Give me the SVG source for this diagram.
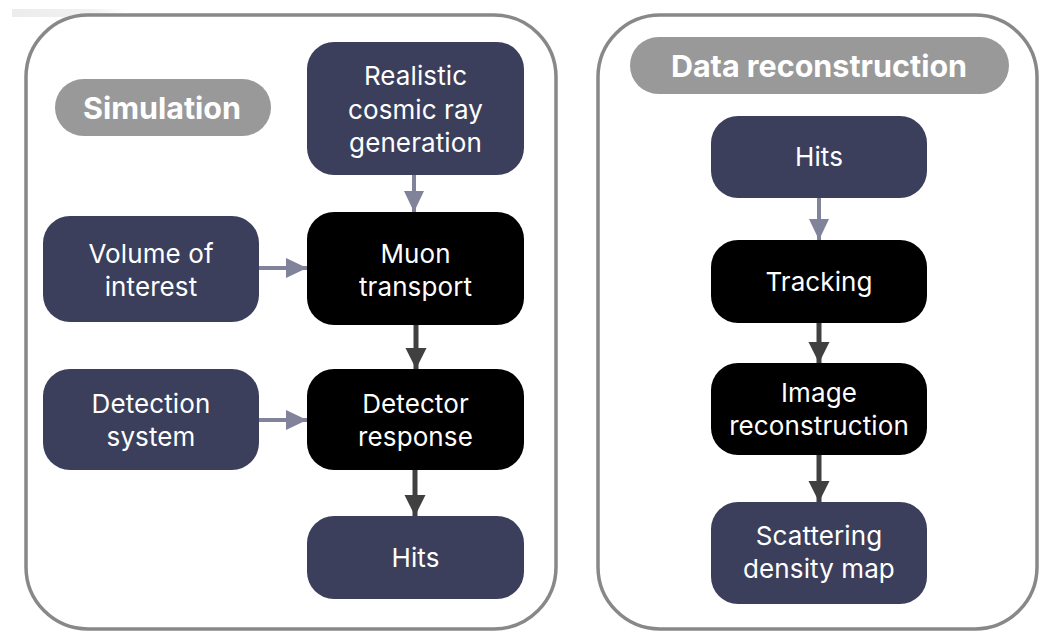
<svg xmlns="http://www.w3.org/2000/svg" width="1043" height="632" viewBox="0 0 1043 632">
  <defs>
    <linearGradient id="fade" x1="0" y1="0" x2="1" y2="0">
      <stop offset="0" stop-color="#ececec"/>
      <stop offset="0.7" stop-color="#f1f1f1"/>
      <stop offset="1" stop-color="#ffffff"/>
    </linearGradient>
    <marker id="ahLight" markerUnits="userSpaceOnUse" markerWidth="22" markerHeight="22" viewBox="0 0 22 22" refX="21" refY="11" orient="auto">
      <path d="M0,1 L21,11 L0,21 z" fill="#80839a"/>
    </marker>
    <marker id="ahDark" markerUnits="userSpaceOnUse" markerWidth="22" markerHeight="22" viewBox="0 0 22 22" refX="21" refY="11" orient="auto">
      <path d="M0,0.5 L21,11 L0,21.5 z" fill="#404040"/>
    </marker>
  </defs>
  <style>
    .panel { fill: #ffffff; stroke: #888888; stroke-width: 3.5; }
    .pill { fill: #999999; }
    .pilltxt { font-family: Inter, "Liberation Sans", sans-serif; font-weight: 700; font-size: 30.5px; fill: #ffffff; text-anchor: middle; }
    .navy { fill: #3b3f5c; }
    .black { fill: #000000; }
    .txt { font-family: Inter, "Liberation Sans", sans-serif; font-size: 26px; fill: #ffffff; text-anchor: middle; letter-spacing: 0.1px; }
    .lightarrow { stroke: #80839a; stroke-width: 4; fill: none; marker-end: url(#ahLight); }
    .darkarrow { stroke: #404040; stroke-width: 5; fill: none; marker-end: url(#ahDark); }
  </style>
  <rect x="0" y="0" width="1043" height="632" fill="#ffffff"/>
  <rect x="12" y="9" width="115" height="8" fill="url(#fade)"/>

  <g id="panel-simulation">
    <rect class="panel" x="26" y="15" width="530" height="614" rx="62" ry="62"/>
    <rect class="pill" x="55" y="79" width="216" height="57" rx="28.5"/>
    <text class="pilltxt" x="162" y="119">Simulation</text>
  </g>
  <g id="panel-reconstruction">
    <rect class="panel" x="598" y="15" width="439" height="614" rx="62" ry="62"/>
    <rect class="pill" x="630" y="37" width="379" height="57" rx="28.5"/>
    <text class="pilltxt" x="819" y="77">Data reconstruction</text>
  </g>

  <g id="node-cosmic">
    <rect class="navy" x="307" y="42" width="217" height="133" rx="27"/>
    <text class="txt" x="415.5" y="85">Realistic</text>
    <text class="txt" x="415.5" y="119">cosmic ray</text>
    <text class="txt" x="415.5" y="152">generation</text>
  </g>
  <g id="node-volume">
    <rect class="navy" x="43" y="216" width="216" height="106" rx="27"/>
    <text class="txt" x="151" y="263">Volume of</text>
    <text class="txt" x="151" y="296">interest</text>
  </g>
  <g id="node-muon">
    <rect class="black" x="307" y="212" width="217" height="113" rx="27"/>
    <text class="txt" x="415.5" y="263">Muon</text>
    <text class="txt" x="415.5" y="296">transport</text>
  </g>
  <g id="node-detection">
    <rect class="navy" x="43" y="369" width="216" height="101" rx="27"/>
    <text class="txt" x="151" y="413">Detection</text>
    <text class="txt" x="151" y="446">system</text>
  </g>
  <g id="node-detector">
    <rect class="black" x="307" y="369" width="217" height="101" rx="27"/>
    <text class="txt" x="415.5" y="413">Detector</text>
    <text class="txt" x="415.5" y="446">response</text>
  </g>
  <g id="node-hits-sim">
    <rect class="navy" x="307" y="516" width="217" height="83" rx="27"/>
    <text class="txt" x="415.5" y="567">Hits</text>
  </g>

  <g id="node-hits-rec">
    <rect class="navy" x="711" y="116" width="216" height="82" rx="27"/>
    <text class="txt" x="819" y="166">Hits</text>
  </g>
  <g id="node-tracking">
    <rect class="black" x="711" y="240" width="216" height="83" rx="27"/>
    <text class="txt" x="819" y="291">Tracking</text>
  </g>
  <g id="node-image">
    <rect class="black" x="711" y="363" width="216" height="92" rx="27"/>
    <text class="txt" x="819" y="402">Image</text>
    <text class="txt" x="819" y="435">reconstruction</text>
  </g>
  <g id="node-scattering">
    <rect class="navy" x="711" y="502" width="216" height="102" rx="27"/>
    <text class="txt" x="819" y="545">Scattering</text>
    <text class="txt" x="819" y="578">density map</text>
  </g>

  <g id="connectors">
    <line class="lightarrow" x1="414" y1="175" x2="414" y2="212"/>
    <line class="lightarrow" x1="259" y1="268" x2="307" y2="268"/>
    <line class="darkarrow" x1="416" y1="325" x2="416" y2="369"/>
    <line class="lightarrow" x1="259" y1="420" x2="307" y2="420"/>
    <line class="darkarrow" x1="415" y1="470" x2="415" y2="516"/>
    <line class="lightarrow" x1="819" y1="198" x2="819" y2="240"/>
    <line class="darkarrow" x1="819" y1="323" x2="819" y2="363"/>
    <line class="darkarrow" x1="819" y1="455" x2="819" y2="502"/>
  </g>
</svg>
